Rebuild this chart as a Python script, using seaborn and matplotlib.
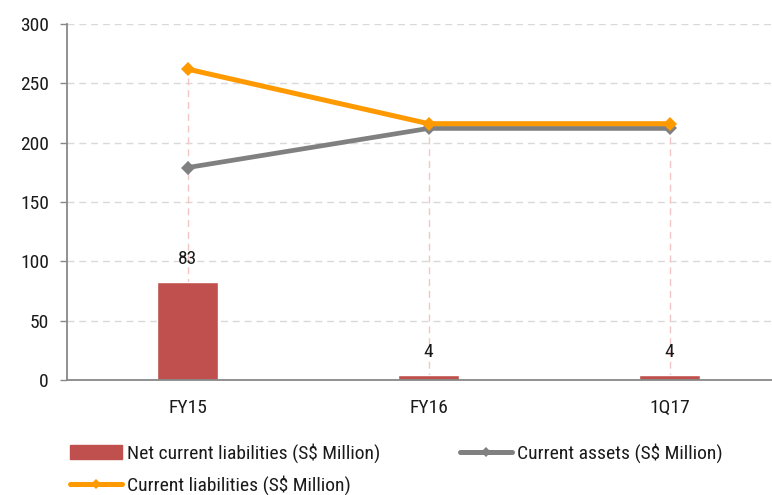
import matplotlib
matplotlib.use("Agg")
import matplotlib.pyplot as plt
from matplotlib.lines import Line2D
from matplotlib.patches import Patch
import seaborn as sns
import pandas as pd

categories = ["FY15", "FY16", "1Q17"]
net_current_liabilities = [83, 4, 4]
current_assets = [179, 212, 212]
current_liabilities = [262, 216, 216]
y_ticks = [0, 50, 100, 150, 200, 250, 300]

label_net = "Net current liabilities (S$ Million)"
label_ca = "Current assets (S$ Million)"
label_cl = "Current liabilities (S$ Million)"

sns.set_theme(style="white")
plt.rcParams["font.family"] = ["Roboto Condensed", "Archivo Narrow", "DejaVu Sans"]

BAR = "#C0504D"
GREY = "#808080"
ORANGE = "#FF9900"
DROP = "#F2C6C6"
TXT = "#1a1a1a"
FS = 14

df = pd.DataFrame({"cat": categories, "net": net_current_liabilities,
                   "ca": current_assets, "cl": current_liabilities})

fig = plt.figure(figsize=(7.72, 4.95), dpi=100)
ax = fig.add_axes([67 / 772, 1 - 380 / 495, 1 - 67 / 772, (380 - 24) / 495])

# drop lines behind everything
xpos = list(range(len(categories)))
ax.vlines(xpos, 0, df["cl"], colors=DROP, linestyles=(0, (5, 3.5)), linewidth=1.0, zorder=1)

sns.barplot(data=df, x="cat", y="net", color=BAR, width=0.253, saturation=1,
            ax=ax, zorder=2)
for c in ax.containers:
    ax.bar_label(c, fmt="%g", padding=10, fontsize=FS, color=TXT)

sns.lineplot(data=df, x="cat", y="ca", color=GREY, linewidth=3.4, marker="D",
             markersize=7, markeredgewidth=0, ax=ax, zorder=3, sort=False)
sns.lineplot(data=df, x="cat", y="cl", color=ORANGE, linewidth=3.6, marker="D",
             markersize=7, markeredgewidth=0, ax=ax, zorder=4, sort=False)

ax.set_xlim(-0.5, 2.425)
ax.set_ylim(0, 300)
ax.set_yticks(y_ticks)
ax.yaxis.grid(True, color="#D9D9D9", linestyle=(0, (5, 3.5)), linewidth=1.0)
ax.set_axisbelow(True)
ax.set_xlabel("")
ax.set_ylabel("")
for s in ["top", "right"]:
    ax.spines[s].set_visible(False)
for s in ["left", "bottom"]:
    ax.spines[s].set_color("#888888")
    ax.spines[s].set_linewidth(1.3)
ax.tick_params(axis="y", which="major", left=True, length=5, width=1, color="#888888",
               labelsize=FS, pad=8, labelcolor=TXT)
ax.tick_params(axis="x", bottom=False, labelsize=FS, pad=8, labelcolor=TXT)

handles = [
    Patch(facecolor=BAR, edgecolor=BAR),
    Line2D([], [], color=ORANGE, linewidth=3.6, marker="D", markersize=5, markeredgewidth=0),
    Line2D([], [], color=GREY, linewidth=3.6, marker="D", markersize=5, markeredgewidth=0),
]
labels = [label_net, label_cl, label_ca]
fig.legend(handles, labels, loc="upper left", bbox_to_anchor=(70 / 772, 1 - 443 / 495),
           ncol=2, frameon=False, fontsize=FS, handlelength=2.67, handleheight=0.75,
           handletextpad=0.26, columnspacing=4.1, labelspacing=0.65, borderpad=0,
           borderaxespad=0, labelcolor=TXT)

fig.savefig("out.png", dpi=100)
